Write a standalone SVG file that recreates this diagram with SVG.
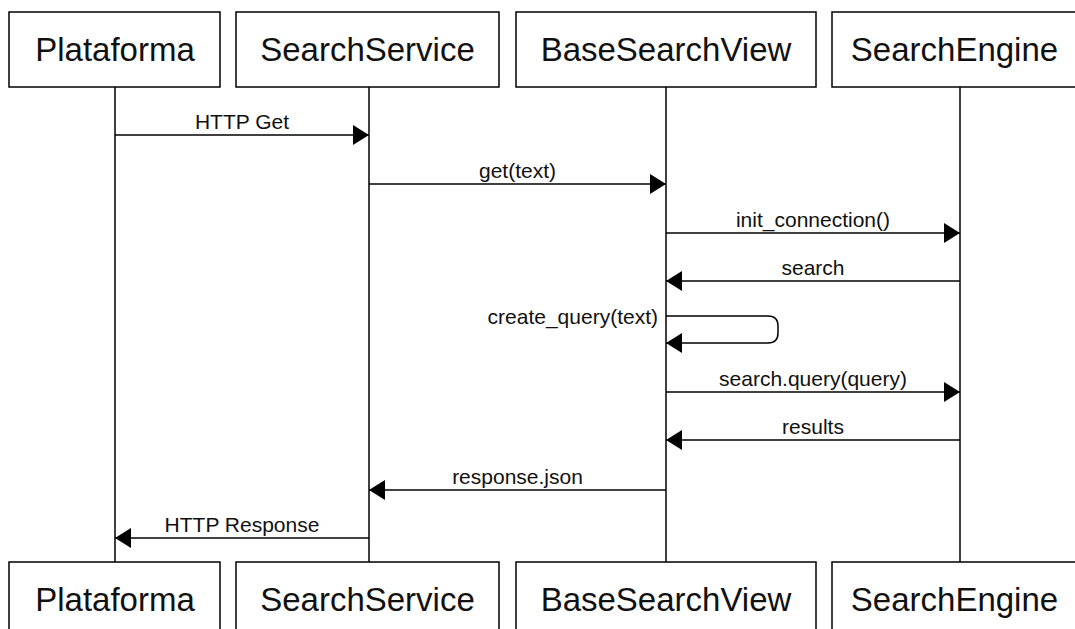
<svg xmlns="http://www.w3.org/2000/svg" width="1075" height="629" viewBox="0 0 1075 629">
  <style>
    .box { fill: #ffffff; stroke: #000000; stroke-width: 1.5; }
    .name { font-family: "Liberation Sans", Arial, sans-serif; font-size: 33px; fill: #111111; text-anchor: middle; }
    .life { stroke: #000000; stroke-width: 1.5; fill: none; }
    .msg { stroke: #000000; stroke-width: 1.5; fill: none; marker-end: url(#head); }
    .lbl { font-family: "Liberation Sans", Arial, sans-serif; font-size: 21px; fill: #111111; text-anchor: middle; }
  </style>
  <defs>
    <marker id="head" markerUnits="userSpaceOnUse" markerWidth="16" markerHeight="20" viewBox="0 0 16 20" refX="16" refY="10" orient="auto">
      <path d="M0,0 L16,10 L0,20 z" fill="#000000"/>
    </marker>
  </defs>
  <rect width="1075" height="629" fill="#ffffff"/>

  <!-- lifelines -->
  <g id="lifelines">
    <line class="life" x1="115" y1="87" x2="115" y2="562"/>
    <line class="life" x1="369" y1="87" x2="369" y2="562"/>
    <line class="life" x1="666" y1="87" x2="666" y2="562"/>
    <line class="life" x1="960" y1="87" x2="960" y2="562"/>
  </g>

  <!-- participants -->
  <g id="plataforma">
    <rect class="box" x="9" y="12" width="211" height="75"/>
    <text class="name" x="115" y="61">Plataforma</text>
    <rect class="box" x="9" y="562" width="211" height="75"/>
    <text class="name" x="115" y="611">Plataforma</text>
  </g>
  <g id="searchservice">
    <rect class="box" x="236" y="12" width="263" height="75"/>
    <text class="name" x="367.5" y="61">SearchService</text>
    <rect class="box" x="236" y="562" width="263" height="75"/>
    <text class="name" x="367.5" y="611">SearchService</text>
  </g>
  <g id="basesearchview">
    <rect class="box" x="516" y="12" width="300" height="75"/>
    <text class="name" x="666" y="61">BaseSearchView</text>
    <rect class="box" x="516" y="562" width="300" height="75"/>
    <text class="name" x="666" y="611">BaseSearchView</text>
  </g>
  <g id="searchengine">
    <rect class="box" x="832" y="12" width="245" height="75"/>
    <text class="name" x="954.5" y="61">SearchEngine</text>
    <rect class="box" x="832" y="562" width="245" height="75"/>
    <text class="name" x="954.5" y="611">SearchEngine</text>
  </g>

  <!-- messages -->
  <g id="connectors">
    <line class="msg" x1="115" y1="135" x2="369" y2="135"/>
    <text class="lbl" x="242" y="129">HTTP Get</text>

    <line class="msg" x1="369" y1="184" x2="666" y2="184"/>
    <text class="lbl" x="517.5" y="178">get(text)</text>

    <line class="msg" x1="666" y1="233" x2="960" y2="233"/>
    <text class="lbl" x="813" y="227">init_connection()</text>

    <line class="msg" x1="960" y1="281" x2="666" y2="281"/>
    <text class="lbl" x="813" y="275">search</text>

    <path class="msg" d="M666,316 H768 Q778,316 778,326 V333 Q778,343 768,343 H666"/>
    <text class="lbl" x="658" y="324" style="text-anchor:end">create_query(text)</text>

    <line class="msg" x1="666" y1="392" x2="960" y2="392"/>
    <text class="lbl" x="813" y="386">search.query(query)</text>

    <line class="msg" x1="960" y1="440" x2="666" y2="440"/>
    <text class="lbl" x="813" y="434">results</text>

    <line class="msg" x1="666" y1="490" x2="369" y2="490"/>
    <text class="lbl" x="517.5" y="484">response.json</text>

    <line class="msg" x1="369" y1="538" x2="115" y2="538"/>
    <text class="lbl" x="242" y="532">HTTP Response</text>
  </g>
</svg>
